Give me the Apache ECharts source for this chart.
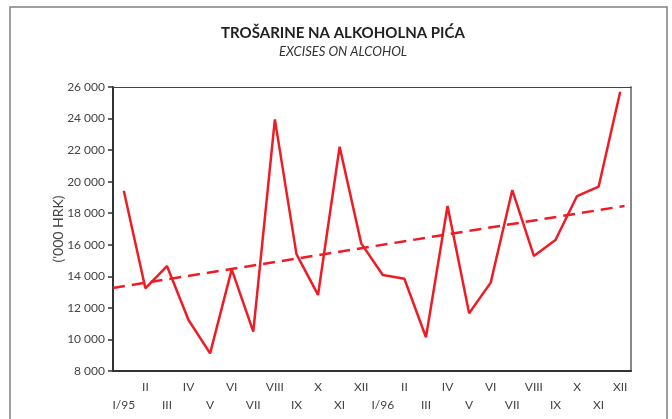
<!DOCTYPE html>
<html>
<head>
<meta charset="utf-8">
<script src="https://cdn.jsdelivr.net/npm/echarts@6/dist/echarts.min.js"></script>
<style>
  html, body { margin: 0; padding: 0; background: #fff; }
  #chart { width: 672px; height: 419px; }
</style>
</head>
<body>
<div id="chart"></div>
<script>
// months I/95 .. XII/96
const months = ['I/95', 'II', 'III', 'IV', 'V', 'VI', 'VII', 'VIII', 'IX', 'X', 'XI', 'XII',
                'I/96', 'II', 'III', 'IV', 'V', 'VI', 'VII', 'VIII', 'IX', 'X', 'XI', 'XII']

// excises, '000 HRK
const excises = [19420, 13240, 14650, 11230, 9120, 14440, 10490, 23950, 15410, 12820, 22210, 16090,
                 14080, 13850, 10140, 18460, 11660, 13600, 19470, 15290, 16300, 19090, 19680, 25700]

// trend line end points [category position, value]
const trend = [[-0.5, 13260], [23.2, 18460]]

const yTicks = [8000, 26000, 2000]

const red = '#ee1c25'
const font = 'Lato, "Open Sans", sans-serif'

const chart = echarts.init(document.getElementById('chart'))

function fmt(v) {
  return String(v).replace(/\B(?=(\d{3})+(?!\d))/g, ' ')
}

const option = {
  animation: false,
  title: {
    text: 'TROŠARINE NA ALKOHOLNA PIĆA',
    subtext: 'EXCISES ON ALCOHOL',
    left: 338,
    textAlign: 'center',
    top: 21,
    itemGap: 4,
    textStyle: { fontFamily: font, fontSize: 15, fontWeight: 'bold', color: '#222' },
    subtextStyle: { fontFamily: font, fontSize: 13, fontStyle: 'italic', color: '#333' }
  },
  graphic: [{
    type: 'rect',
    shape: { x: 10, y: 7, width: 657, height: 430 },
    style: { fill: null, stroke: '#808080', lineWidth: 1.5 },
    silent: true
  }],
  grid: {
    left: 113,
    right: 41,
    top: 87,
    bottom: 48,
    outerBoundsMode: 'none',
    containLabel: false
  },
  xAxis: [{
    type: 'category',
    data: months,
    boundaryGap: true,
    axisLine: { onZero: false, lineStyle: { color: '#333', width: 2 } },
    axisTick: { show: false },
    axisLabel: {
      interval: 0,
      margin: 7,
      color: '#444',
      fontFamily: font,
      fontSize: 12,
      lineHeight: 18,
      formatter: function (v, i) {
        return i % 2 === 0 ? '\n' + v : v
      }
    }
  }, {
    type: 'value',
    position: 'top',
    min: -0.5,
    max: 23.5,
    axisLine: { show: true, onZero: false, lineStyle: { color: '#444', width: 1 } },
    axisTick: { show: false },
    axisLabel: { show: false },
    splitLine: { show: false }
  }],
  yAxis: [{
    type: 'value',
    min: yTicks[0],
    max: yTicks[1],
    interval: yTicks[2],
    name: "('000 HRK)",
    nameLocation: 'middle',
    nameGap: 48,
    nameMoveOverlap: false,
    nameTextStyle: { fontFamily: font, fontSize: 14, color: '#444' },
    axisLine: { show: true, onZero: false, lineStyle: { color: '#333', width: 2 } },
    axisTick: { show: true, length: 5, lineStyle: { color: '#333', width: 1.5 } },
    axisLabel: {
      margin: 8,
      color: '#444',
      fontFamily: font,
      fontSize: 12,
      formatter: fmt
    },
    splitLine: { show: false }
  }, {
    type: 'value',
    position: 'right',
    min: yTicks[0],
    max: yTicks[1],
    interval: yTicks[2],
    axisLine: { show: true, onZero: false, lineStyle: { color: '#888', width: 2 } },
    axisTick: { show: false },
    axisLabel: { show: false },
    splitLine: { show: false }
  }],
  series: [{
    name: 'excises',
    type: 'line',
    data: excises,
    symbol: 'none',
    lineStyle: { color: red, width: 2.5 },
    z: 3
  }, {
    name: 'trend',
    type: 'line',
    xAxisIndex: 1,
    data: trend,
    symbol: 'none',
    lineStyle: { color: red, width: 2.5, type: [12, 7] },
    z: 2
  }]
}

chart.setOption(option)
</script>
</body>
</html>
